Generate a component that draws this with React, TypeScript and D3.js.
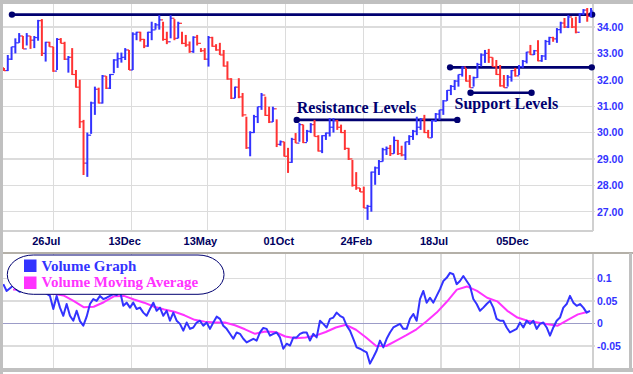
import * as d3 from "d3";

// weekly price bars (high / low / close), open = previous close
const highs = [
  32.45, 32.94, 33.25, 33.57, 33.77, 33.66, 33.77, 33.66, 33.66, 34.27, 34.3, 33.44, 33.44, 33.25, 33.58, 33.58, 33.44, 32.9, 33.2, 32.37,
  32.0, 30.48, 30.0, 31.17, 31.74, 31.7, 32.18, 32.14, 32.22, 32.78, 33.03, 33.03, 33.2, 33.13, 33.8, 33.82, 33.82, 33.55, 33.82, 34.2,
  34.15, 34.45, 34.2, 33.82, 34.45, 34.3, 34.2, 33.82, 33.7, 33.45, 33.65, 33.7, 33.2, 33.2, 33.66,
  33.63, 33.35, 33.4, 33.13, 32.7, 32.06, 31.74, 32.06, 31.5, 30.6, 30.05, 30.67, 30.98, 31.5, 31.36, 30.98, 30.98, 30.5, 29.7, 29.65,
  29.42, 29.8, 29.98, 30.36, 30.3, 30.1, 30.36, 30.48, 29.9, 29.9, 30.0, 30.55, 30.55, 30.48, 30.3, 30.1, 29.42, 28.96, 28.5, 27.9,
  27.95, 27.26, 28.52, 28.71, 28.96, 29.42, 29.47, 29.53, 29.85, 29.72, 29.5, 29.65, 29.9, 30.1,
  30.6, 30.55, 30.67, 30.1, 30.48, 30.74, 30.86, 31.23, 31.61, 31.8, 31.99, 32.2, 32.5, 32.45, 32.18, 32.12, 32.64, 33.0, 33.13, 33.17,
  32.85, 32.75, 32.56, 32.18, 32.18, 32.37, 32.45, 32.56, 32.75, 33.06, 33.32, 33.13, 33.5, 32.94, 33.51, 33.63, 33.63, 33.96, 34.2, 34.34,
  34.45, 34.34, 34.39, 34.53, 34.68, 34.72, 34.72,
];
const lows = [
  32.33, 32.33, 32.75, 33.0, 33.4, 33.17, 33.3, 33.17, 33.2, 33.48, 32.9, 32.69, 33.25, 32.3, 32.37, 33.38, 32.75, 32.27, 32.18, 31.7,
  30.17, 28.39, 28.32, 29.95, 30.67, 31.1, 31.1, 31.65, 31.65, 32.25, 32.45, 32.65, 32.75, 32.37, 32.37, 33.5, 33.45, 33.2, 33.25, 33.5,
  33.9, 33.9, 33.48, 33.35, 33.57, 33.5, 33.57, 33.35, 33.25, 33.02, 33.02, 33.3, 33.05, 32.75, 32.5,
  33.25, 33.1, 32.94, 32.5, 32.0, 31.27, 31.3, 31.3, 30.6, 29.38, 29.1, 29.98, 30.36, 30.86, 30.63, 30.36, 30.4, 29.45, 29.5, 29.09,
  28.47, 28.85, 29.6, 29.65, 29.6, 29.65, 29.98, 29.85, 29.28, 29.22, 29.72, 29.85, 30.0, 30.1, 29.98, 29.34, 28.96, 27.95, 27.83, 27.75,
  27.14, 26.69, 27.0, 28.02, 28.39, 28.9, 29.15, 29.11, 29.2, 29.15, 29.1, 28.96, 29.53, 29.72,
  29.9, 30.1, 29.98, 29.8, 29.8, 30.4, 30.48, 30.67, 31.2, 31.42, 31.61, 31.74, 32.12, 31.93, 31.7, 31.74, 32.07, 32.5, 32.64, 32.64,
  32.5, 32.18, 31.74, 31.7, 31.74, 31.93, 32.12, 32.18, 32.45, 32.62, 32.94, 32.94, 32.7, 32.68, 32.75, 33.32, 33.44, 33.4, 33.76, 33.96,
  33.96, 33.96, 33.76, 34.15, 34.45, 34.2, 34.38,
];
const closes = [
  32.35, 32.78, 33.25, 33.4, 33.66, 33.17, 33.66, 33.5, 33.6, 34.24, 33.0, 33.42, 33.25, 32.33, 33.53, 33.38, 32.78, 32.85, 32.2, 31.72,
  30.41, 28.84, 29.9, 31.12, 31.64, 31.12, 32.14, 31.68, 32.2, 32.75, 32.8, 32.85, 33.13, 32.37, 33.73, 33.8, 33.53, 33.28, 33.8, 33.89,
  34.08, 34.27, 33.53, 33.44, 34.33, 33.57, 34.14, 33.38, 33.32, 33.07, 33.61, 33.38, 33.1, 32.78, 33.6,
  33.27, 33.13, 32.94, 32.52, 32.03, 31.3, 31.72, 31.35, 30.67, 29.42, 30.0, 30.6, 30.98, 31.42, 30.65, 30.4, 30.9, 29.55, 29.65, 29.1,
  28.87, 29.74, 29.6, 30.3, 29.62, 30.05, 30.3, 29.85, 29.3, 29.88, 29.98, 30.2, 30.45, 30.2, 30.0, 29.4, 29.0, 28.0, 27.9, 27.75,
  27.14, 27.2, 28.5, 28.66, 28.9, 29.35, 29.4, 29.2, 29.7, 29.2, 29.15, 29.65, 29.85, 30.05,
  30.2, 30.5, 30.0, 29.8, 30.45, 30.7, 30.86, 31.2, 31.6, 31.75, 31.95, 32.2, 32.48, 31.95, 31.7, 32.08, 32.58, 32.94, 33.0, 32.85,
  32.5, 32.2, 31.77, 31.7, 32.1, 32.35, 32.15, 32.5, 32.7, 33.05, 32.95, 33.1, 32.72, 32.9, 33.45, 33.6, 33.55, 33.9, 34.15, 34.0,
  34.38, 34.0, 33.8, 34.5, 34.64, 34.4, 34.6,
];
const firstOpen = 32.45;

const priceTicks = [27, 28, 29, 30, 31, 32, 33, 34];
const dateLabels = ["26Jul", "13Dec", "13May", "01Oct", "24Feb", "18Jul", "05Dec"];
const dateBars = [13.0, 33.7, 53.7, 74.4, 94.9, 115.4, 136.1];

// drawn support / resistance levels: price, from bar, to bar
const levelPrices = [34.47, 32.47, 31.51, 30.48];
const levelFrom = [2.1, 117.8, 123.2, 77.3];
const levelTo = [155.3, 155.2, 139.3, 119.7];

const volume = [
  0.087, 0.072, 0.078, 0.084, 0.075, 0.07, 0.076, 0.081, 0.073, 0.068, 0.072, 0.078, 0.07, 0.066, 0.061, 0.032, 0.061, 0.035, 0.017, 0.043,
  0.017, 0.006, 0.028, 0.005, -0.005, 0.015, 0.043, 0.054, 0.05, 0.061, 0.054, 0.057, 0.061, 0.065, 0.063, 0.072, 0.039, 0.046, 0.035, 0.046,
  0.032, 0.035, 0.024, 0.017, 0.032, 0.046, 0.028, 0.035, 0.017, 0.028, 0.006, 0.024, 0.006, -0.001, -0.016, 0.002, -0.012, -0.009, 0.002, 0.006,
  -0.005, 0.002, -0.012, 0.002, 0.015, 0.01, -0.005, -0.012, -0.023, -0.034, -0.02, -0.023, -0.034, -0.042, -0.038, -0.034, -0.038, -0.02, -0.01, -0.012,
  -0.027, -0.023, -0.02, -0.031, -0.056, -0.045, -0.049, -0.031, -0.031, -0.023, -0.02, -0.02, -0.038, -0.023,
  -0.031, 0.006, -0.001, -0.009, 0.01, 0.013, 0.024, 0.017, 0.013, -0.005, -0.016, -0.034, -0.053, -0.056, -0.06, -0.064, -0.089, -0.075, -0.06, -0.038,
  -0.053, -0.034, -0.02, -0.009, -0.005, -0.001, -0.012, -0.012, 0.01, 0.021, 0.006, 0.054, 0.072, 0.046, 0.057, 0.046, 0.061, 0.076, 0.094, 0.101,
  0.112, 0.109, 0.087, 0.094, 0.105, 0.094, 0.083, 0.054, 0.043, 0.028, 0.035, 0.043, 0.05, 0.035, 0.01, 0.006, 0.006, -0.009, -0.02, -0.016,
  -0.012, 0.002, -0.009, 0.006, -0.001, 0.006, -0.012, -0.001, 0.002, -0.009, -0.027, -0.009, 0.006, 0.013, 0.035, 0.043, 0.061, 0.046, 0.039, 0.043,
  0.035, 0.024, 0.028,
];
const volumeAvg = [
  0.075, 0.074, 0.072, 0.069, 0.066, 0.062, 0.05, 0.036, 0.037, 0.047, 0.06, 0.061, 0.053, 0.046, 0.037, 0.031, 0.026, 0.018, 0.008, 0.004,
  0.002, 0.002, -0.004, -0.013, -0.023, -0.018, -0.019, -0.029, -0.033, -0.031, -0.027, -0.019, -0.009, -0.003, -0.014, -0.031, -0.05, -0.05, -0.038, -0.026,
  -0.013, 0.005, 0.024, 0.048, 0.075, 0.082, 0.072, 0.057, 0.049, 0.028, 0.013, 0.006, 0.002, -0.002, -0.005, 0.008, 0.02, 0.026,
];
const volumeTicks = [0.1, 0.05, 0, -0.05];
const volumeTickLabels = ["0.1", "0.05", "0", "-0.05"];
const legendLabels = ["Volume Graph", "Volume Moving Average"];
const legendColors = ["#3333ff", "#ff33ff"];

const W = 633;
const H = 374;
const plotL = 3;
const plotR = 593;
const topY0 = 4;
const topY1 = 231;
const botY0 = 253;
const botY1 = 368;

const x = d3.scaleLinear().domain([0, closes.length - 1]).range([4, 591]);
const yP = d3.scaleLinear().domain([27, 34]).range([211.7, 27]);
const xv = d3.scaleLinear().domain([0, volume.length - 1]).range([3.3, 590]);
const xa = d3.scaleLinear().domain([0, volumeAvg.length - 1]).range([13, 588]);
const yV = d3.scaleLinear().domain([-0.05, 0.1]).range([346, 278.3]);

const volLine = d3.line<number>().x((_, i) => xv(i)).y((d) => yV(d));
const avgLine = d3.line<number>().x((_, i) => xa(i)).y((d) => yV(d));

const navy = "#000070";
const grid = "#dcdcdc";
const axisFont = "'Liberation Sans', Arial, sans-serif";
const serif = "'Liberation Serif', 'Times New Roman', serif";

const App = () => {
  return (
    <svg
      width={W}
      height={H}
      style={{ position: "absolute", left: 0, top: 0, background: "#fff" }}
    >
      <rect x={0} y={0} width={W} height={H} fill="#fff" />
      <defs>
        <clipPath id="topClip">
          <rect x={plotL} y={topY0} width={plotR - plotL} height={topY1 - topY0} />
        </clipPath>
        <clipPath id="botClip">
          <rect x={plotL} y={botY0} width={plotR - plotL} height={botY1 - botY0} />
        </clipPath>
      </defs>

      {/* price panel grid */}
      <g shapeRendering="crispEdges">
        {priceTicks.map((t) => (
          <line key={t} x1={plotL} x2={plotR + 2} y1={yP(t)} y2={yP(t)} stroke={grid} strokeWidth={1.3} />
        ))}
        {dateBars.map((b) => (
          <line key={b} x1={x(b)} x2={x(b)} y1={topY0} y2={topY1} stroke={grid} strokeWidth={1.3} />
        ))}
        <line x1={plotL} x2={plotR} y1={topY1} y2={topY1} stroke="#d0d0d0" strokeWidth={2} />
        <line x1={plotR} x2={plotR} y1={topY0} y2={topY1} stroke="#d0d0d0" strokeWidth={1.3} />
      </g>

      {/* level lines */}
      <g>
        {levelPrices.map((p, i) => (
          <g key={i}>
            <line x1={x(levelFrom[i])} x2={x(levelTo[i])} y1={yP(p)} y2={yP(p)} stroke={navy} strokeWidth={2.6} />
            <circle cx={x(levelFrom[i])} cy={yP(p)} r={3.2} fill={navy} />
            <circle cx={x(levelTo[i])} cy={yP(p)} r={3.2} fill={navy} />
          </g>
        ))}
      </g>

      {/* price bars */}
      <g clipPath="url(#topClip)">
        {closes.map((c, i) => {
          const open = i === 0 ? firstOpen : closes[i - 1];
          const color = c >= open ? "#3333ff" : "#ff3333";
          const bx = x(i);
          return (
            <g key={i} stroke={color}>
              <line x1={bx} x2={bx} y1={yP(highs[i])} y2={yP(lows[i])} strokeWidth={2} />
              <line x1={bx - 2} x2={bx} y1={yP(open)} y2={yP(open)} strokeWidth={1.2} />
              <line x1={bx} x2={bx + 2} y1={yP(c)} y2={yP(c)} strokeWidth={1.2} />
            </g>
          );
        })}
      </g>

      <text x={x(levelFrom[3])} y={yP(levelPrices[3]) - 7} fontFamily={serif} fontWeight="bold" fontSize={16} fill={navy}>
        Resistance Levels
      </text>
      <text x={x(levelFrom[2]) - 16} y={yP(levelPrices[2]) + 16} fontFamily={serif} fontWeight="bold" fontSize={16} fill={navy}>
        Support Levels
      </text>

      {/* price axis labels */}
      {priceTicks.map((t) => (
        <text key={t} x={597} y={yP(t) + 3.8} fontFamily={axisFont} fontWeight="bold" fontSize={10.5} fill="#3333ff">
          {t.toFixed(2)}
        </text>
      ))}
      {dateLabels.map((d, i) => (
        <text key={d} x={x(dateBars[i]) - 7} y={245} textAnchor="middle" fontFamily={axisFont} fontWeight="bold" fontSize={11} fill="#00005e">
          {d}
        </text>
      ))}

      {/* volume panel */}
      <g shapeRendering="crispEdges">
        {volumeTicks.filter((t) => t !== 0).map((t) => (
          <line key={t} x1={plotL} x2={plotR + 2} y1={yV(t)} y2={yV(t)} stroke={grid} strokeWidth={1.3} />
        ))}
        {dateBars.map((b) => (
          <line key={b} x1={x(b)} x2={x(b)} y1={botY0} y2={botY1} stroke={grid} strokeWidth={1.3} />
        ))}
        <line x1={plotL} x2={plotR + 2} y1={yV(0)} y2={yV(0)} stroke="#9c9cc8" strokeWidth={1} />
        <line x1={plotR} x2={plotR} y1={botY0} y2={botY1} stroke="#d0d0d0" strokeWidth={1.3} />
        <line x1={0} x2={W} y1={botY0} y2={botY0} stroke="#b4b0a8" strokeWidth={1.5} />
      </g>
      <g clipPath="url(#botClip)" fill="none" strokeLinejoin="round">
        <path d={avgLine(volumeAvg) || ""} stroke="#ff33ff" strokeWidth={2} />
        <path d={volLine(volume) || ""} stroke="#3333ff" strokeWidth={2} />
      </g>
      {volumeTicks.map((t, i) => (
        <text key={t} x={597} y={yV(t) + 3.8} fontFamily={axisFont} fontWeight="bold" fontSize={10.5} fill="#3333ff">
          {volumeTickLabels[i]}
        </text>
      ))}

      {/* legend */}
      <rect x={7.3} y={255} width={216.7} height={39.3} rx={26} ry={19.5} fill="#fff" stroke={navy} strokeWidth={1} />
      {legendLabels.map((l, i) => (
        <g key={l}>
          <rect x={24} y={259.5 + i * 17} width={12.5} height={12.5} fill={legendColors[i]} />
          <text x={41.5} y={270.7 + i * 16.6} fontFamily={serif} fontWeight="bold" fontSize={15} fill={legendColors[i]}>
            {l}
          </text>
        </g>
      ))}

      {/* outer frame */}
      <rect x={0} y={0} width={W} height={4} fill="#c0c0c0" />
      <rect x={0} y={0} width={3} height={H} fill="#c0c0c0" />
      <rect x={0} y={368} width={W} height={4} fill="#c0c0c0" />
      <rect x={629} y={botY0} width={3} height={H - botY0 - 2} fill="#c0c0c0" />
    </svg>
  );
};

export default App;
